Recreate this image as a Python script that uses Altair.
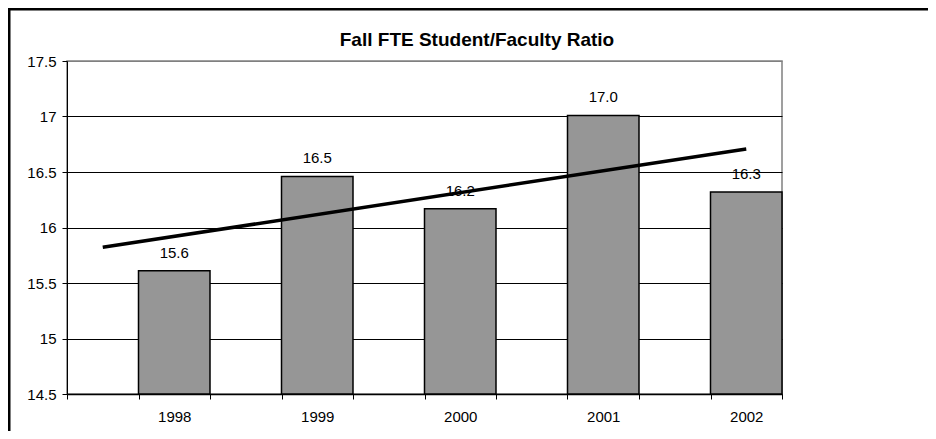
import json
import altair as alt
import pandas as pd

# ---- data ----
title_text = "Fall FTE Student/Faculty Ratio"
years = ["1998", "1999", "2000", "2001", "2002"]
positions = [0, 1, 2, 3, 4]
ratios = [15.61, 16.46, 16.17, 17.01, 16.32]
y_ticks = [14.5, 15.0, 15.5, 16.0, 16.5, 17.0, 17.5]
x_ticks = [-0.75, -0.25, 0.25, 0.75, 1.25, 1.75, 2.25, 2.75, 3.25, 3.75, 4.25]

df = pd.DataFrame({"year": years, "idx": positions, "ratio": ratios})
one = pd.DataFrame({"t": [title_text]})

FONT = "Liberation Sans"
W, H = 715, 333

xscale = alt.Scale(domain=[-0.75, 4.25], nice=False, zero=False)
yscale = alt.Scale(domain=[14.5, 17.5], nice=False, zero=False)

years_js = json.dumps(years).replace('"', "'")
label_expr = (
    "abs((datum.value + 0.25) - round(datum.value + 0.25)) < 0.01 && "
    "round(datum.value + 0.25) >= 0 && round(datum.value + 0.25) <= 4 ? "
    f"{years_js}[round(datum.value + 0.25)] : ''"
)

xaxis = alt.Axis(
    values=x_ticks, labelExpr=label_expr, labelOffset=35.75, grid=False,
    tickSize=5, tickColor="black", domainColor="black", domainWidth=1.5,
    labelFontSize=15, labelColor="black", labelPadding=10,
    labelOverlap=False, labelBound=False, labelFlush=False, title=None,
)
yaxis = alt.Axis(
    values=y_ticks, format="~g", grid=True,
    gridColor=alt.condition("datum.value >= 17.5", alt.value("#808080"), alt.value("#000000")),
    gridWidth=1, tickSize=5, tickColor="black", domainColor="black", domainWidth=1,
    labelFontSize=15, labelColor="black", labelPadding=6, title=None,
)

bars = alt.Chart(df).transform_calculate(
    x0="datum.idx - 0.25", x1="datum.idx + 0.25"
).mark_rect(fill="#969696", stroke="black", strokeWidth=1.5).encode(
    x=alt.X("x0:Q", scale=xscale, axis=xaxis, title=None),
    x2="x1:Q",
    y=alt.Y("ratio:Q", scale=yscale, axis=yaxis, title=None),
    y2=alt.datum(14.5),
)

labels = alt.Chart(df).mark_text(
    dy=-13, baseline="alphabetic", fontSize=15, font=FONT, color="black"
).encode(
    x=alt.X("idx:Q", scale=xscale, title=None),
    y=alt.Y("ratio:Q", scale=yscale, title=None),
    text=alt.Text("ratio:Q", format=".1f"),
)

trend = alt.Chart(df).transform_regression(
    "idx", "ratio", extent=[-0.5, 4]
).mark_line(color="black", strokeWidth=3.5).encode(
    x=alt.X("idx:Q", scale=xscale, title=None),
    y=alt.Y("ratio:Q", scale=yscale, title=None),
)

title = alt.Chart(one).mark_text(
    fontSize=19, fontWeight="bold", font=FONT, color="black",
    align="center", baseline="alphabetic",
).encode(x=alt.value(410), y=alt.value(-15), text="t:N")

border_left = alt.Chart(one).mark_rule(color="black", strokeWidth=2.5).encode(
    x=alt.value(-57.75), y=alt.value(-53), y2=alt.value(H + 37)
)
border_top = alt.Chart(one).mark_rule(color="black", strokeWidth=2.5).encode(
    x=alt.value(-59), x2=alt.value(W + 146), y=alt.value(-51.75)
)

chart = alt.layer(bars, labels, trend, title, border_left, border_top).properties(
    width=W, height=H,
    autosize=alt.AutoSizeParams(type="none"),
    padding={"left": 59, "top": 53, "right": 146, "bottom": 37},
).configure(font=FONT).configure_view(stroke="#808080", strokeWidth=1.5)

chart.save("out.html", embed_options={"renderer": "svg", "actions": False})
